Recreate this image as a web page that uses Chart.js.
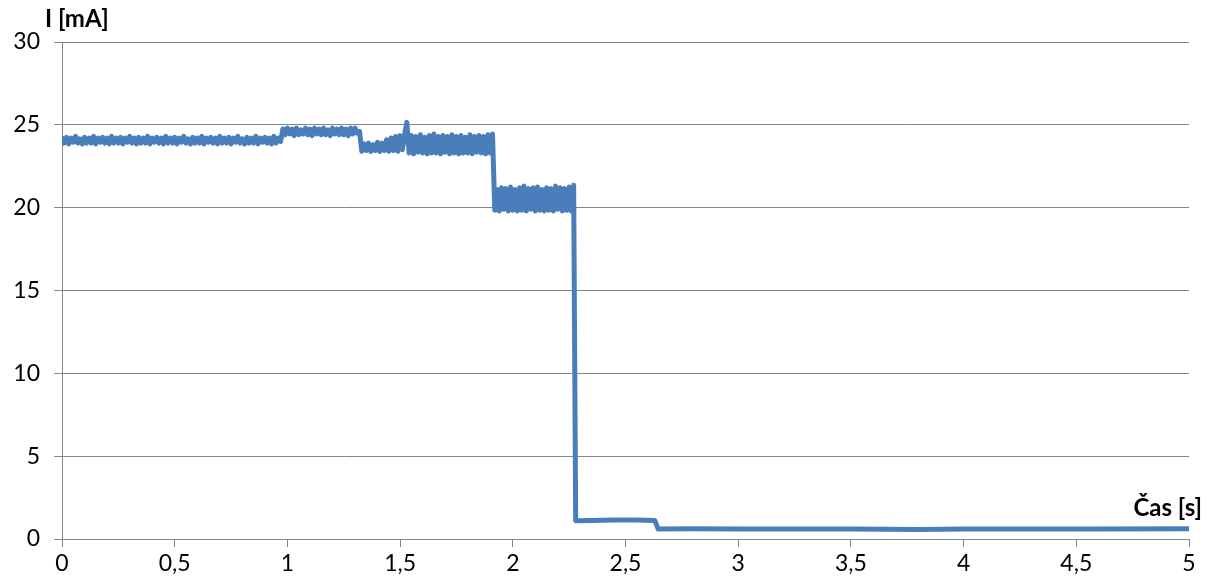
<!DOCTYPE html>
<html>
<head>
<meta charset="utf-8">
<script src="https://cdn.jsdelivr.net/npm/chart.js@4/dist/chart.umd.min.js"></script>
<style>
  body { margin: 0; background: #fff; }
</style>
</head>
<body>
<canvas id="currentChart" width="1219" height="586"></canvas>
<script>
// noisy part is sampled every 0.01 s from t = 0
let sampleStep = 0.01;

// 0 - 0.97 s
let seg1 = [24.2, 23.9, 24.25, 23.85, 24.2, 23.95, 24.3, 23.9, 24.15, 23.85,
            24.25, 23.9, 24.2, 23.9, 24.3, 23.85, 24.2, 23.95, 24.25, 23.9,
            24.2, 23.85, 24.3, 23.9, 24.2, 23.9, 24.25, 23.85, 24.2, 23.95,
            24.3, 23.9, 24.2, 23.85, 24.25, 23.9, 24.2, 23.9, 24.3, 23.85,
            24.2, 23.95, 24.25, 23.9, 24.2, 23.85, 24.3, 23.9, 24.2, 23.9,
            24.25, 23.85, 24.2, 23.95, 24.3, 23.9, 24.15, 23.85, 24.25, 23.9,
            24.2, 23.9, 24.3, 23.85, 24.2, 23.95, 24.25, 23.9, 24.2, 23.85,
            24.3, 23.9, 24.2, 23.9, 24.25, 23.85, 24.2, 23.95, 24.3, 23.9,
            24.15, 23.85, 24.25, 23.9, 24.2, 23.9, 24.3, 23.85, 24.2, 23.95,
            24.25, 23.9, 24.2, 23.85, 24.3, 23.9, 24.2, 24.0];
// 0.98 - 1.32 s
let seg2 = [24.75, 24.4, 24.8, 24.45, 24.75, 24.35, 24.8, 24.4, 24.7, 24.45,
            24.8, 24.4, 24.75, 24.35, 24.8, 24.45, 24.75, 24.4, 24.8, 24.4,
            24.7, 24.35, 24.8, 24.45, 24.75, 24.4, 24.8, 24.4, 24.75, 24.35,
            24.8, 24.45, 24.8, 24.5, 24.6];
// 1.33 - 1.91 s
let seg3 = [23.4, 23.85, 23.45, 23.9, 23.4, 23.8, 23.45, 23.95, 23.4, 23.9,
            23.45, 24.1, 23.4, 24.2, 23.45, 24.3, 23.4, 24.35, 23.5, 24.4,
            25.15,
            23.3, 24.35, 23.25, 24.3, 23.35, 24.4, 23.3, 24.25, 23.25, 24.35,
            23.3, 24.45, 23.3, 24.3, 23.25, 24.35, 23.35, 24.3, 23.25, 24.4,
            23.3, 24.3, 23.25, 24.35, 23.3, 24.25, 23.3, 24.4, 23.25, 24.3,
            23.35, 24.35, 23.3, 24.3, 23.25, 24.4, 23.3, 24.45];
// 1.92 - 2.27 s
let seg4 = [19.85, 21.1, 19.8, 21.2, 19.9, 21.15, 19.8, 21.25, 19.85, 21.1,
            19.8, 21.2, 19.85, 21.3, 19.8, 21.15, 19.9, 21.2, 19.8, 21.25,
            19.85, 21.1, 19.8, 21.2, 19.85, 21.15, 19.8, 21.3, 19.9, 21.2,
            19.8, 21.15, 19.85, 21.25, 19.8, 21.35];

// after the drop
let tailTimes  = [2.279, 2.35, 2.45, 2.55, 2.63, 2.645, 2.8, 3, 3.2, 3.5, 3.8, 4, 4.3, 4.6, 5];
let tailValues = [1.1, 1.12, 1.15, 1.15, 1.12, 0.6, 0.62, 0.6, 0.6, 0.6, 0.58, 0.6, 0.6, 0.6, 0.62];

let xTicks = [0, 0.5, 1, 1.5, 2, 2.5, 3, 3.5, 4, 4.5, 5];
let yTicks = [0, 5, 10, 15, 20, 25, 30];

let points = [];
seg1.concat(seg2, seg3, seg4).forEach((v, i) => {
    points.push({ x: +(i * sampleStep).toFixed(3), y: v });
});
tailTimes.forEach((t, i) => {
    points.push({ x: t, y: tailValues[i] });
});

let gridColor = '#868686';

// axis titles drawn like in the original (horizontal, at the axis ends)
let axisTitles = {
    id: 'axisTitles',
    afterDraw(chart) {
        const ctx = chart.ctx;
        const area = chart.chartArea;
        ctx.save();
        ctx.fillStyle = '#000';
        ctx.font = 'bold 24px Lato';
        ctx.textBaseline = 'middle';
        ctx.textAlign = 'left';
        ctx.fillText('I [mA]', area.left - 17, area.top - 23);
        ctx.textAlign = 'right';
        ctx.fillText('Čas [s]', area.right + 13, area.bottom - 31);
        ctx.restore();
    }
};

const ctx = document.getElementById('currentChart').getContext('2d');
let chart = new Chart(ctx, {
    type: 'line',
    data: {
        datasets: [{
            data: points,
            borderColor: '#4a7ebb',
            borderWidth: 5,
            borderJoinStyle: 'round',
            borderCapStyle: 'round',
            pointRadius: 0,
            tension: 0,
            fill: false
        }]
    },
    options: {
        responsive: false,
        animation: false,
        layout: { padding: { top: 42, right: 30, left: 0, bottom: 0 } },
        plugins: {
            legend: { display: false },
            tooltip: { enabled: false }
        },
        scales: {
            x: {
                type: 'linear',
                min: 0,
                max: 5,
                afterFit: (scale) => { scale.height = 47; },
                afterBuildTicks: (scale) => { scale.ticks = xTicks.map(v => ({ value: v })); },
                grid: { drawOnChartArea: false, drawTicks: true, tickLength: 8, color: gridColor },
                border: { color: gridColor },
                ticks: {
                    color: '#000',
                    font: { family: 'Lato', size: 23 },
                    padding: 3,
                    maxRotation: 0,
                    callback: (v) => String(v).replace('.', ',')
                }
            },
            y: {
                min: 0,
                max: 30,
                afterFit: (scale) => { scale.width = 62; },
                afterBuildTicks: (scale) => { scale.ticks = yTicks.map(v => ({ value: v })); },
                grid: { color: gridColor, tickLength: 8 },
                border: { color: gridColor },
                ticks: {
                    color: '#000',
                    font: { family: 'Lato', size: 23 },
                    padding: 14
                }
            }
        }
    },
    plugins: [axisTitles]
});
</script>
</body>
</html>
